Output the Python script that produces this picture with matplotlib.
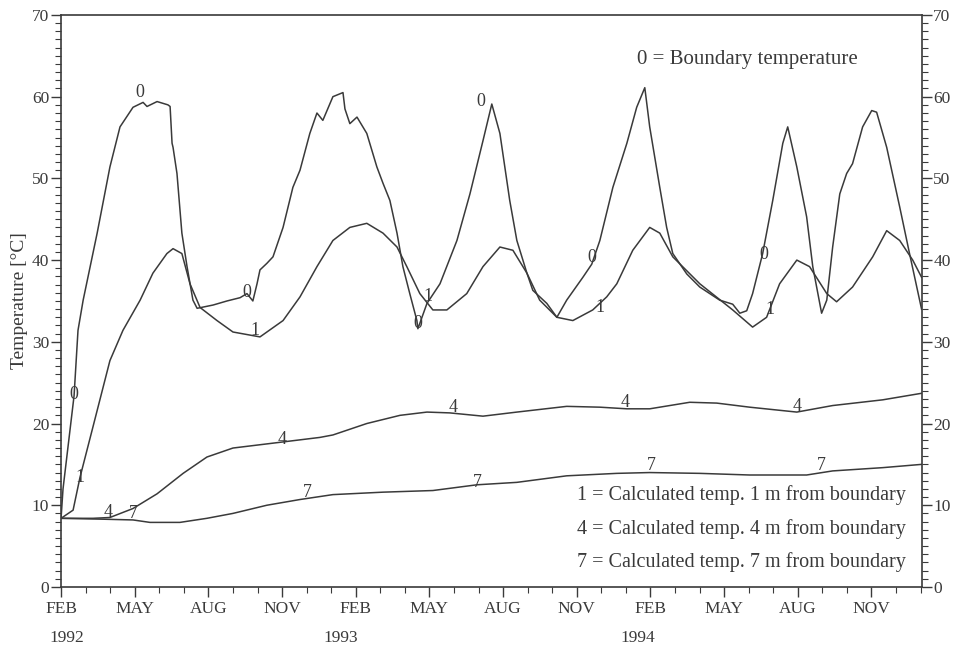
import matplotlib
matplotlib.use("Agg")
import matplotlib.pyplot as plt
from matplotlib.ticker import MultipleLocator, FixedLocator

plt.rcParams['font.family'] = ['Liberation Serif', 'DejaVu Serif']

# x values: months since 1 Feb 1992
m0 = [0, 0.08, 0.53, 0.69, 0.9, 1.47, 1.99, 2.4, 2.93, 3.34, 3.5, 3.91, 4.35, 4.44, 4.52,
      4.56, 4.72, 4.92, 5.13, 5.37, 5.54, 6.19, 6.76, 7.29, 7.57, 7.81, 7.98, 8.1, 8.38,
      8.63, 9.04, 9.44, 9.73, 10.13, 10.42, 10.66, 11.07, 11.48, 11.56, 11.76, 12.05,
      12.45, 12.86, 13.11, 13.39, 13.68, 13.92, 14.2, 14.49, 14.53, 14.9, 15.43, 16.12,
      16.65, 17.18, 17.54, 17.87, 18.27, 18.56, 18.97, 19.21, 19.78, 20.19, 20.59, 21.25,
      21.61, 21.94, 22.47, 23.04, 23.44, 23.77, 23.97, 24.38, 24.66, 24.91, 25.48, 26.01,
      26.82, 27.35, 27.64, 27.92, 28.16, 28.57, 28.98, 29.39, 29.59, 29.96, 30.36, 30.61,
      30.97, 31.18, 31.42, 31.71, 31.99, 32.23, 32.64, 33.01, 33.21, 33.62, 34.15, 34.55,
      35.04]
t0 = [8.4, 12.0, 23.4, 31.4, 35.1, 43.3, 51.4, 56.3, 58.7, 59.3, 58.8, 59.4, 59.0, 58.8, 54.3,
      53.8, 50.6, 43.3, 39.2, 35.1, 34.1, 34.5, 35.0, 35.4, 35.9, 35.0, 37.1, 38.8, 39.6,
      40.4, 44.0, 48.9, 51.0, 55.5, 58.0, 57.1, 60.0, 60.5, 58.5, 56.7, 57.5,
      55.5, 51.4, 49.4, 47.3, 43.3, 39.2, 35.9, 32.6, 31.6, 34.7, 37.1, 42.4,
      48.1, 54.6, 59.1, 55.5, 47.3, 42.4, 38.4, 36.3, 34.7, 33.0, 35.1, 37.9,
      39.5, 42.4, 48.9, 54.3, 58.7, 61.1, 56.3, 48.9, 44.0, 40.8, 38.3, 36.7,
      35.1, 34.6, 33.5, 33.8, 35.9, 40.8, 47.3, 54.3, 56.3, 51.4, 45.3, 39.2,
      33.5, 35.1, 41.6, 48.1, 50.6, 51.8, 56.3, 58.3, 58.1, 53.8, 46.5, 40.8,
      34.0]

m1 = [0, 0.49, 0.77, 1.3, 1.99, 2.52, 3.22, 3.74, 4.31, 4.56, 4.92, 5.25, 5.66, 6.35, 7.0,
      8.1, 9.04, 9.73, 10.42, 11.07, 11.76, 12.45, 13.11, 13.68, 14.08, 14.61, 15.14, 15.71,
      16.52, 17.18, 17.87, 18.4, 18.97, 19.49, 20.19, 20.84, 21.65, 22.22, 22.63, 23.28,
      23.97, 24.38, 24.91, 26.01, 27.35, 28.16, 28.73, 29.26, 29.96, 30.48, 31.18, 31.58,
      32.23, 33.05, 33.62, 34.15, 34.68, 35.04]
t1 = [8.4, 9.4, 13.4, 19.6, 27.7, 31.4, 35.1, 38.4, 40.8, 41.4, 40.8, 37.1, 34.2, 32.6, 31.2,
      30.6, 32.6, 35.5, 39.2, 42.4, 44.0, 44.5, 43.3, 41.6, 39.2, 35.9, 33.9, 33.9,
      35.9, 39.2, 41.6, 41.2, 38.4, 35.1, 33.0, 32.6, 33.9, 35.5, 37.1, 41.2,
      44.0, 43.3, 40.4, 37.1, 33.9, 31.8, 33.0, 37.1, 40.0, 39.2, 35.9, 34.9,
      36.7, 40.4, 43.6, 42.4, 40.0, 37.9]

m4 = [0, 1.3, 1.99, 2.93, 3.91, 4.97, 5.94, 7.0, 8.91, 10.54, 11.07, 12.45, 13.8, 14.9, 15.83,
      17.18, 18.56, 20.59, 21.94, 23.04, 23.97, 25.6, 26.7, 28.04, 29.96, 31.42, 33.46, 35.04]
t4 = [8.4, 8.4, 8.5, 9.6, 11.4, 13.9, 15.9, 17.0, 17.7, 18.3, 18.6, 20.0, 21.0, 21.4, 21.3,
      20.9, 21.4, 22.1, 22.0, 21.8, 21.8, 22.6, 22.5, 22.0, 21.4, 22.2, 22.9, 23.7]

m7 = [0, 1.59, 2.93, 3.62, 4.84, 5.94, 7.0, 8.38, 9.73, 11.07, 13.11, 15.14, 16.93, 18.56,
      20.59, 22.63, 23.97, 26.01, 28.04, 30.36, 31.42, 33.46, 35.04]
t7 = [8.4, 8.3, 8.2, 7.9, 7.9, 8.4, 9.0, 10.0, 10.7, 11.3, 11.6, 11.8, 12.5, 12.8,
      13.6, 13.9, 14.0, 13.9, 13.7, 13.7, 14.2, 14.6, 15.0]

# curve labels: (month, temperature)
lab0 = [(0.53, 23.5), (3.22, 60.5), (7.57, 36.0), (14.53, 32.3), (17.09, 59.4), (21.61, 40.3), (28.61, 40.7)]
lab1 = [(0.77, 13.4), (7.9, 31.4), (14.94, 35.6), (21.94, 34.2), (28.86, 33.9)]
lab4 = [(1.91, 9.1), (8.99, 18.1), (15.95, 22.0), (22.95, 22.6), (29.96, 22.1)]
lab7 = [(2.93, 9.0), (10.01, 11.6), (16.97, 12.8), (24.05, 14.9), (30.97, 14.9)]

month_ticks = [0, 3, 6, 9, 12, 15, 18, 21, 24, 27, 30, 33]
month_names = ['FEB', 'MAY', 'AUG', 'NOV'] * 3
years = [(0.25, '1992'), (11.4, '1993'), (23.5, '1994')]

col = '#3a3a3a'
fig = plt.figure(figsize=(9.54, 6.5), dpi=100)
ax = fig.add_axes([0.064, 0.097, 0.902, 0.880])

for xs, ys in [(m0, t0), (m1, t1), (m4, t4), (m7, t7)]:
    ax.plot(xs, ys, color=col, lw=1.1)

for labs, s in [(lab0, '0'), (lab1, '1'), (lab4, '4'), (lab7, '7')]:
    for x, y in labs:
        ax.text(x, y, s, ha='center', va='center', fontsize=13, color=col)

ax.set_xlim(0, 35.04)
ax.set_ylim(0, 70)
ax.xaxis.set_major_locator(FixedLocator(month_ticks))
ax.set_xticklabels(month_names)
ax.xaxis.set_minor_locator(MultipleLocator(1))
ax.yaxis.set_major_locator(MultipleLocator(10))
ax.yaxis.set_minor_locator(MultipleLocator(1))
ax.tick_params(which='major', direction='out', length=7, width=1, colors=col,
               labelsize=12.5, right=True, labelright=True, pad=1.5)
ax.tick_params(which='minor', direction='out', length=4, width=0.8, colors=col, right=True)
ax.tick_params(axis='x', which='major', pad=3)
for sp in ax.spines.values():
    sp.set_color(col)
    sp.set_linewidth(1.2)

for x, s in years:
    ax.text(x, -0.075, s, transform=ax.get_xaxis_transform(), ha='center', va='top',
            fontsize=12.5, color=col)

ax.set_ylabel('Temperature [°C]', fontsize=14, color=col, labelpad=3)

ax.text(23.45, 64.6, '0 = Boundary temperature', fontsize=15, color=col, va='center', ha='left')
legend_lines = ['1 = Calculated temp. 1 m from boundary',
                '4 = Calculated temp. 4 m from boundary',
                '7 = Calculated temp. 7 m from boundary']
for i, s in enumerate(legend_lines):
    ax.text(34.4, 11.2 - 4.1 * i, s, fontsize=14.5, color=col, va='center', ha='right')

fig.savefig('out.png', dpi=100)
